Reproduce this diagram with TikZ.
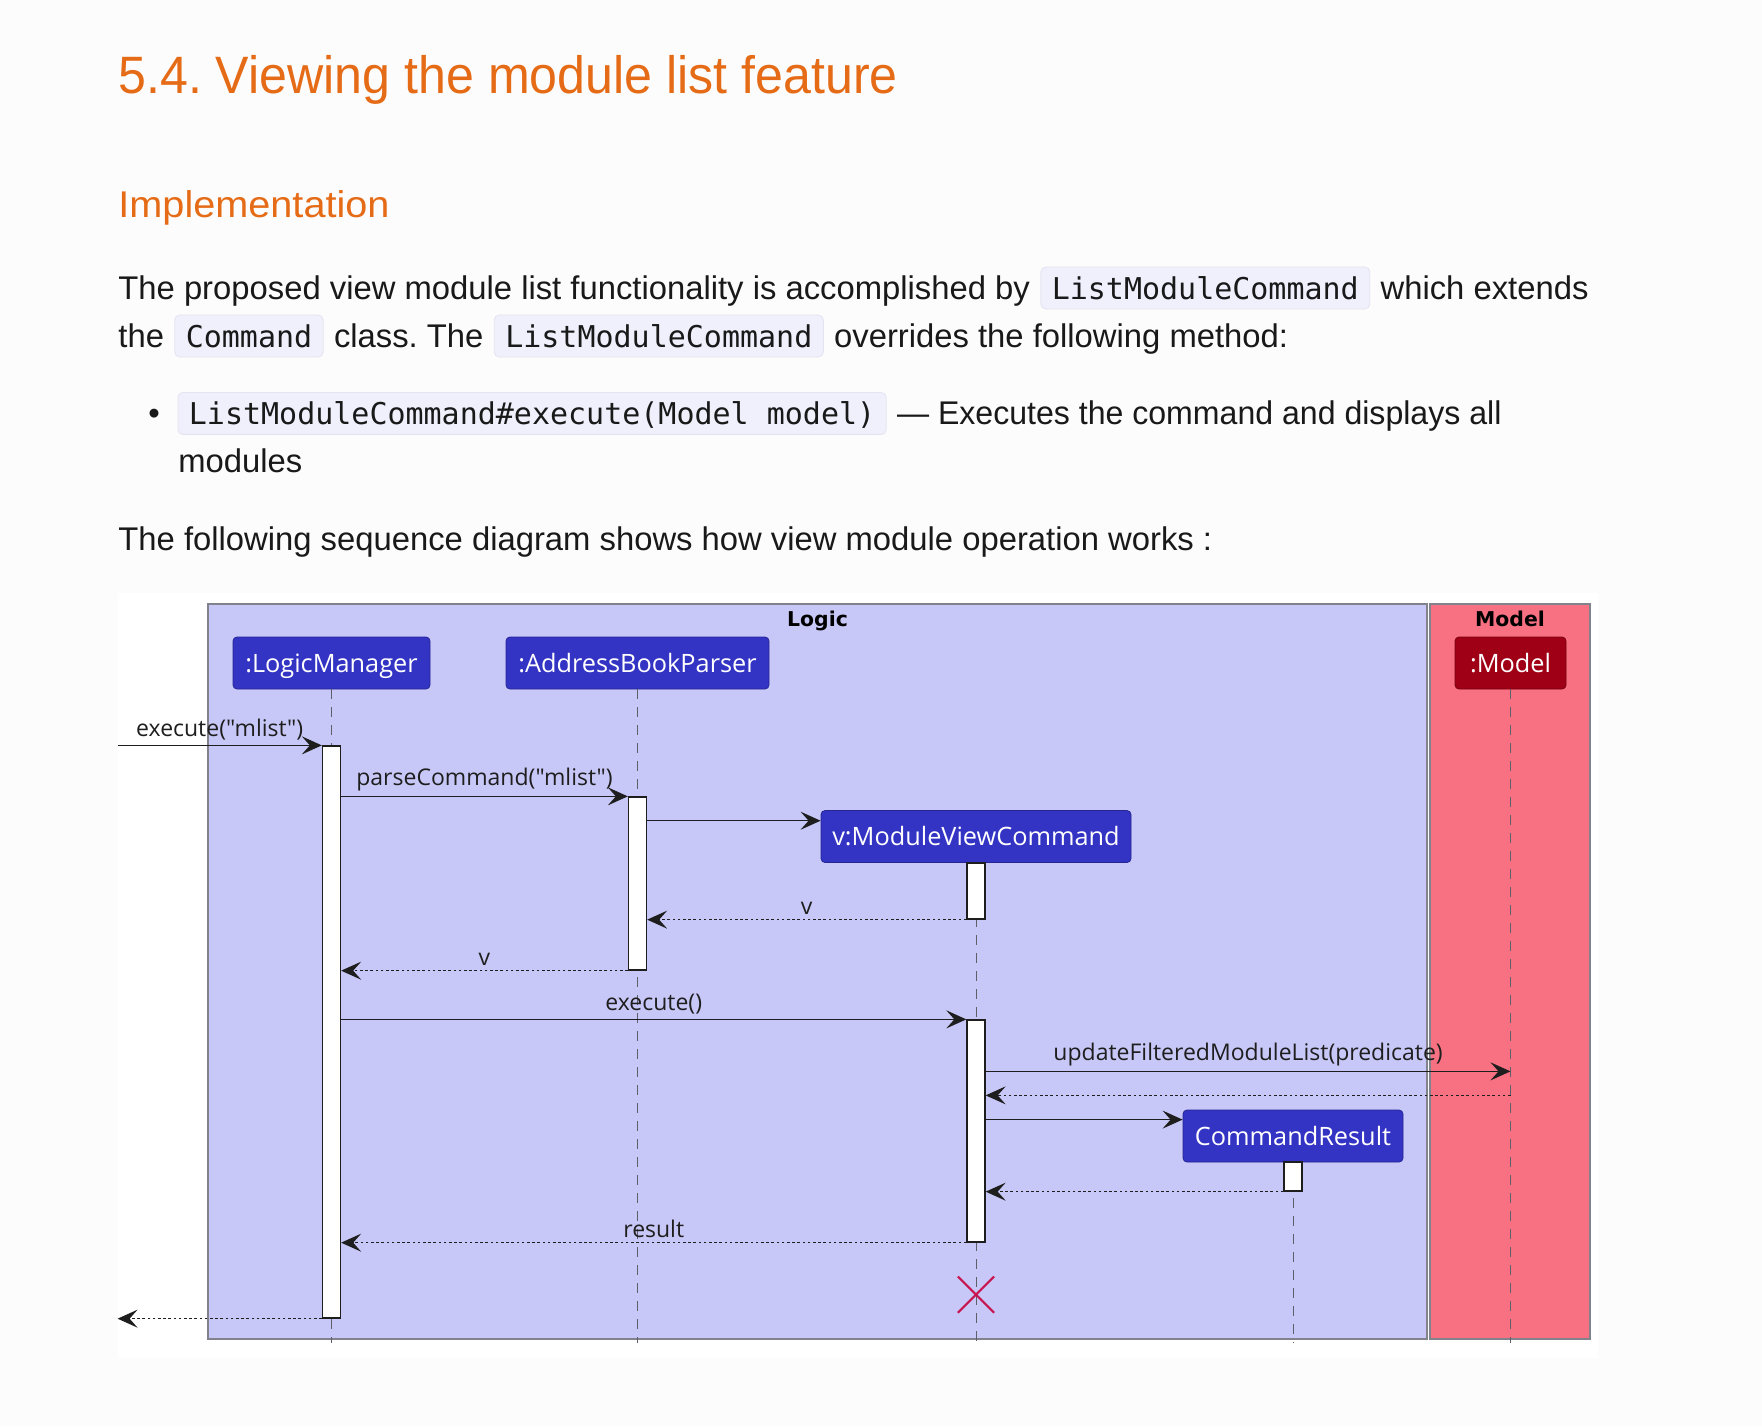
\documentclass[tikz,border=0pt]{standalone}
\usepackage{graphicx}
\usepackage{fontspec}
\setmainfont{Liberation Sans}
\newfontfamily\codefont{DejaVu Sans Mono}
\newfontfamily\umlfont{Open Sans}
\newfontfamily\grpfont{DejaVu Sans}
\frenchspacing
\definecolor{pagebg}{RGB}{252,252,252}
\definecolor{headorange}{RGB}{229,107,22}
\definecolor{textdark}{RGB}{25,25,25}
\definecolor{codebg}{RGB}{240,240,253}
\definecolor{codeline}{RGB}{228,228,240}
\definecolor{logicbg}{RGB}{200,200,248}
\definecolor{modelbg}{RGB}{247,113,130}
\definecolor{framegray}{RGB}{130,130,140}
\definecolor{partblue}{RGB}{51,51,196}
\definecolor{partred}{RGB}{160,0,22}
\definecolor{inkgray}{RGB}{30,30,30}
\definecolor{lifegray}{RGB}{95,95,105}
\definecolor{killred}{RGB}{200,20,80}
\usetikzlibrary{arrows.meta,positioning,fit,shapes.misc}

\begin{document}
\begin{tikzpicture}[x=0.5pt, y=-0.5pt,
    title/.style={anchor=base west, inner sep=0pt, text=headorange},
    body/.style={anchor=base west, inner sep=0pt, text=textdark,
                 font=\fontsize{16.4}{20}\selectfont},
    code/.style={anchor=base west, fill=codebg, draw=codeline, rounded corners=2.5pt,
                 inner xsep=5.5pt, inner ysep=0pt, text height=16pt, text depth=5pt,
                 text=textdark, font=\codefont\fontsize{15}{18}\selectfont},
    nextto/.style={right=5pt of #1, anchor=base west},
    pkgframe/.style={draw=framegray, line width=0.6pt, inner sep=0pt},
    grouplbl/.style={text height=7.4pt, text depth=0pt, inner sep=0pt, text=black,
                     font=\grpfont\bfseries\fontsize{10.2}{12}\selectfont},
    partbox/.style={draw=partblue!75!black, fill=partblue, rounded corners=2pt,
                    minimum height=26pt, inner sep=0pt, text=white,
                    text height=9pt, text depth=0pt,
                    font=\umlfont\fontsize{12.65}{14}\selectfont},
    actbar/.style={draw=inkgray, fill=white, line width=0.65pt, inner sep=0pt},
    life/.style={draw=lifegray, line width=0.5pt, dash pattern=on 5pt off 4pt},
    msg/.style={-{Stealth[length=10pt, width=9pt, inset=4pt]}, line width=0.75pt, inkgray},
    reply/.style={msg, dash pattern=on 1.3pt off 1.3pt},
    lbl/.style={above=1.2pt, inner sep=1pt, text=inkgray,
                font=\umlfont\fontsize{11.5}{13}\selectfont}
  ]
  \useasboundingbox (0,0) rectangle (1762,1426);
  \fill[pagebg] (0,0) rectangle (1762,1426);

  % headings
  \node[title, font=\fontsize{26.3}{30}\selectfont] (h1) at (118,93)
    {\scalebox{0.953}[1]{5.4. Viewing the module list feature}};
  \node[title, font=\fontsize{18.6}{22}\selectfont] (h2) at (118,217)
    {\scalebox{1.066}[1]{Implementation}};

  % paragraph
  \node[body] (t1a) at (118,299) {The proposed view module list functionality is accomplished by};
  \node[code, nextto=t1a.base east] (t1b) {ListModuleCommand};
  \node[body, nextto=t1b.base east] (t1c) {which extends};
  \node[body] (t2a) at (118,347) {the};
  \node[code, nextto=t2a.base east] (t2b) {Command};
  \node[body, nextto=t2b.base east] (t2c) {class. The};
  \node[code, nextto=t2c.base east] (t2d) {ListModuleCommand};
  \node[body, nextto=t2d.base east] (t2e) {overrides the following method:};

  % bullet
  \node[body] (bul) at (148,424.5) {\textbullet};
  \node[code] (t3a) at (177.5,424.5) {ListModuleCommand\#execute(Model model)};
  \node[body, nextto=t3a.base east] (t3b) {\scalebox{0.978}[1]{— Executes the command and displays all}};
  \node[body] (t3c) at (178,472.5) {modules};
  \node[body] (t4) at (118,550) {The following sequence diagram shows how view module operation works :};

  % sequence diagram
  \node[fill=white, inner sep=0pt, fit={(118,593) (1598,1358)}] (img) {};
  \node[pkgframe, fill=logicbg, fit={(208,604) (1427,1339)}] (logicF) {};
  \node[pkgframe, fill=modelbg, fit={(1430,604) (1590,1339)}] (modelF) {};
  \node[grouplbl] (logicT) at ([yshift=-8pt]logicF.north) {Logic};
  \node[grouplbl] (modelT) at ([yshift=-8pt]modelF.north) {Model};

  \node[partbox, minimum width=98.5pt] (lm) at (331.5,663) {:LogicManager};
  \node[partbox, minimum width=131.5pt] (abp) at (637.5,663) {:AddressBookParser};
  \node[partbox, fill=partred, draw=partred!75!black, minimum width=55.5pt] (mdl) at (1510.5,663) {:Model};
  \node[partbox, minimum width=155pt] (mvc) at (976,836.5) {v:ModuleViewCommand};
  \node[partbox, minimum width=110pt] (cr) at (1293,1136) {CommandResult};

  \coordinate (lifeEnd) at ([yshift=-1.5pt]logicF.south);
  \foreach \p in {lm,abp,mdl,mvc,cr}
    \draw[life] (\p.south) -- (\p.south |- lifeEnd);

  \node[actbar, fit={(322.5,746) (340.5,1318)}] (lmA) {};
  \node[actbar, fit={(628.5,797) (646.5,970)}] (abpA) {};
  \node[actbar, fit={(967,863) (985,919)}] (mvcA1) {};
  \node[actbar, fit={(967,1020) (985,1242)}] (mvcA2) {};
  \node[actbar, fit={(1284,1162) (1302,1191)}] (crA) {};

  \draw[msg] (img.west |- lmA.north) -- node[lbl] {execute("mlist")} (lmA.north west);
  \draw[msg] (lmA.east |- abpA.north) -- node[lbl] {parseCommand("mlist")} (abpA.north west);
  \coordinate (mvcIn) at ([yshift=-5.3pt]mvc.north west);
  \draw[msg] (abpA.east |- mvcIn) -- (mvcIn);
  \draw[reply] (mvcA1.south west) -- node[lbl] {v} (abpA.east |- mvcA1.south);
  \draw[reply] (abpA.south west) -- node[lbl] {v} (lmA.east |- abpA.south);
  \draw[msg] (lmA.east |- mvcA2.north) -- node[lbl] {execute()} (mvcA2.north west);
  \coordinate (updOut) at ([yshift=-26pt]mvcA2.north east);
  \draw[msg] (updOut) -- node[lbl] {updateFilteredModuleList(predicate)} (mdl.south |- updOut);
  \coordinate (updBack) at ([yshift=-38pt]mvcA2.north east);
  \draw[reply] (mdl.south |- updBack) -- (updBack);
  \coordinate (crIn) at ([yshift=-5pt]cr.north west);
  \draw[msg] (mvcA2.east |- crIn) -- (crIn);
  \draw[reply] (crA.south west) -- (mvcA2.east |- crA.south);
  \draw[reply] (mvcA2.south west) -- node[lbl] {result} (lmA.east |- mvcA2.south);
  \draw[reply] (lmA.south west) -- (img.west |- lmA.south);

  \node[cross out, draw=killred, line width=1.1pt, minimum size=17pt, inner sep=0pt]
    (kill) at ([yshift=-26pt]mvcA2.south) {};
\end{tikzpicture}
\end{document}
